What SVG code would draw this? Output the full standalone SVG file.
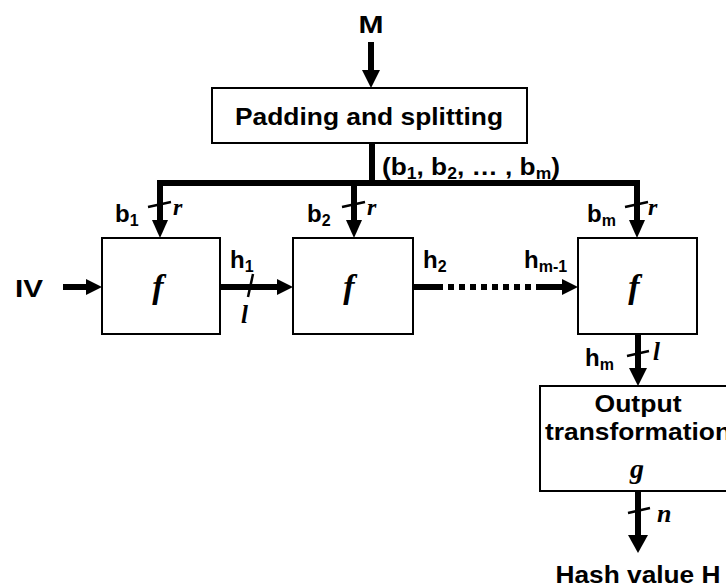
<svg xmlns="http://www.w3.org/2000/svg" width="726" height="587" viewBox="0 0 726 587">
<style>
.box{fill:#fff;stroke:#000;stroke-width:2}
.w{stroke:#000;stroke-width:6;fill:none}
.tk{stroke:#000;stroke-width:2.5;fill:none}
.hd{fill:#000;stroke:none}
.s{font-family:"Liberation Sans",Arial,sans-serif;font-weight:bold;font-size:24px;fill:#000}
.sub{font-size:16px}
.m{font-family:"Liberation Serif","Times New Roman",serif;font-style:italic;font-weight:bold;fill:#000}
</style>
<rect width="726" height="587" fill="#fff"/>
<g id="connectors">
  <line class="w" x1="371" y1="42" x2="371" y2="71"/>
  <polygon class="hd" points="362,70 380,70 371,88"/>
  <line class="w" x1="372" y1="143" x2="372" y2="184"/>
  <polyline class="w" points="160,221 160,183 637,183 637,221" stroke-linejoin="miter"/>
  <line class="w" x1="354" y1="183" x2="354" y2="221"/>
  <polygon class="hd" points="152,220 168,220 160,238"/>
  <polygon class="hd" points="346,220 362,220 354,238"/>
  <polygon class="hd" points="629,220 645,220 637,238"/>
  <line class="tk" x1="148" y1="207" x2="171" y2="202"/>
  <line class="tk" x1="342" y1="207" x2="365" y2="202"/>
  <line class="tk" x1="625" y1="207" x2="648" y2="202"/>
  <line class="w" x1="63" y1="287" x2="87" y2="287"/>
  <polygon class="hd" points="86,279 86,295 102,287"/>
  <line class="w" x1="220" y1="287" x2="278" y2="287"/>
  <polygon class="hd" points="277,279 277,295 293,287"/>
  <line class="tk" x1="253" y1="274" x2="248" y2="297"/>
  <line class="w" x1="413" y1="287" x2="437" y2="287"/>
  <line class="w" x1="437" y1="287" x2="538" y2="287" stroke-dasharray="6 5"/>
  <line class="w" x1="538" y1="287" x2="563" y2="287"/>
  <polygon class="hd" points="562,279 562,295 578,287"/>
  <line class="w" x1="638" y1="334" x2="638" y2="369"/>
  <polygon class="hd" points="629,368 647,368 638,386"/>
  <line class="tk" x1="627" y1="356" x2="649" y2="351"/>
  <line class="w" x1="638" y1="491" x2="638" y2="536"/>
  <polygon class="hd" points="628,535 648,535 638,553"/>
  <line class="tk" x1="628" y1="513" x2="650" y2="508"/>
</g>
<g id="input-M"><text class="s" x="371" y="33" text-anchor="middle" textLength="25" lengthAdjust="spacingAndGlyphs">M</text></g>
<g id="padding">
  <rect class="box" x="212" y="88" width="315" height="55"/>
  <text class="s" x="369" y="125" text-anchor="middle" textLength="268" lengthAdjust="spacingAndGlyphs">Padding and splitting</text>
</g>
<g id="blocks-label">
  <text class="s" x="382" y="175" textLength="178" lengthAdjust="spacingAndGlyphs">(b<tspan class="sub" dy="4">1</tspan><tspan dy="-4">, b</tspan><tspan class="sub" dy="4">2</tspan><tspan dy="-4">, … , b</tspan><tspan class="sub" dy="4">m</tspan><tspan dy="-4">)</tspan></text>
</g>
<g id="IV"><text class="s" x="15" y="297" textLength="28" lengthAdjust="spacingAndGlyphs">IV</text></g>
<g id="f1">
  <rect class="box" x="102" y="238" width="118" height="96"/>
  <text class="m" x="158" y="298" font-size="34" text-anchor="middle">f</text>
</g>
<g id="f2">
  <rect class="box" x="293" y="238" width="120" height="96"/>
  <text class="m" x="349" y="298" font-size="34" text-anchor="middle">f</text>
</g>
<g id="f3">
  <rect class="box" x="578" y="238" width="119" height="96"/>
  <text class="m" x="634" y="298" font-size="34" text-anchor="middle">f</text>
</g>
<g id="output">
  <rect class="box" x="540" y="386" width="200" height="105"/>
  <text class="s" x="638" y="412" text-anchor="middle" textLength="87" lengthAdjust="spacingAndGlyphs">Output</text>
  <text class="s" x="638" y="440" text-anchor="middle" textLength="186" lengthAdjust="spacingAndGlyphs">transformation</text>
  <text class="m" x="637" y="478" font-size="28" text-anchor="middle">g</text>
</g>
<g id="hash"><text class="s" x="638" y="583" text-anchor="middle" textLength="165" lengthAdjust="spacingAndGlyphs">Hash value H</text></g>
<g id="labels">
  <text class="s" x="115" y="222">b<tspan class="sub" dy="4">1</tspan></text>
  <text class="s" x="307" y="222">b<tspan class="sub" dy="4">2</tspan></text>
  <text class="s" x="587" y="222">b<tspan class="sub" dy="4">m</tspan></text>
  <text class="m" x="173" y="215" font-size="24">r</text>
  <text class="m" x="367" y="215" font-size="24">r</text>
  <text class="m" x="648" y="215" font-size="24">r</text>
  <text class="s" x="230" y="268">h<tspan class="sub" dy="4">1</tspan></text>
  <text class="m" x="241" y="323" font-size="25">l</text>
  <text class="s" x="423" y="268">h<tspan class="sub" dy="4">2</tspan></text>
  <text class="s" x="524" y="268">h<tspan class="sub" dy="4">m-1</tspan></text>
  <text class="s" x="585" y="366">h<tspan class="sub" dy="4">m</tspan></text>
  <text class="m" x="653" y="360" font-size="25">l</text>
  <text class="m" x="657" y="522" font-size="26">n</text>
</g>
</svg>
